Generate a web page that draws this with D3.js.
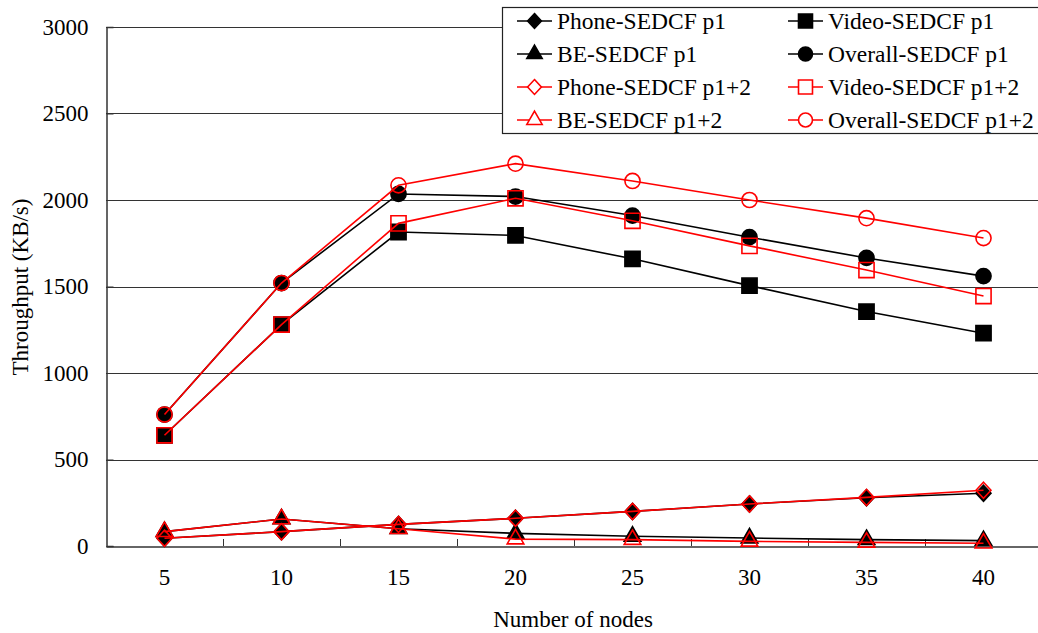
<!DOCTYPE html>
<html>
<head>
<meta charset="utf-8">
<script src="https://cdn.jsdelivr.net/npm/d3@7"></script>
<style>
  body { margin: 0; background: #fff; }
  svg { display: block; font-family: "Liberation Serif", "Times New Roman", serif; }
</style>
</head>
<body>
<svg width="1038" height="633"></svg>
<script>
let nodes = [5, 10, 15, 20, 25, 30, 35, 40];
let yTicks = [0, 500, 1000, 1500, 2000, 2500, 3000];

// values
let phoneP1 = [45, 83, 125, 160, 200, 243, 279, 305];
let videoP1 = [640, 1280, 1815, 1795, 1660, 1505, 1355, 1230];
let beP1 = [83, 156, 100, 73, 56, 46, 37, 31];
let overallP1 = [760, 1520, 2035, 2020, 1910, 1785, 1665, 1560];
let phoneP12 = [45, 83, 125, 160, 200, 243, 281, 322];
let videoP12 = [640, 1280, 1865, 2010, 1880, 1735, 1595, 1445];
let beP12 = [83, 156, 100, 40, 37, 27, 21, 16];
let overallP12 = [760, 1520, 2085, 2210, 2110, 2000, 1895, 1780];

// squat diamond, a bit taller than wide
let diamond = {
    draw: function(ctx, size) {
        let w = Math.sqrt(size) * 0.62, h = w * 1.08;
        ctx.moveTo(0, -h);
        ctx.lineTo(w, 0);
        ctx.lineTo(0, h);
        ctx.lineTo(-w, 0);
        ctx.closePath();
    }
};

let series = [
    {name: 'Phone-SEDCF p1', values: phoneP1, color: 'black', shape: diamond, size: 145, open: false},
    {name: 'Video-SEDCF p1', values: videoP1, color: 'black', shape: d3.symbolSquare, size: 230, open: false},
    {name: 'BE-SEDCF p1', values: beP1, color: 'black', shape: d3.symbolTriangle, size: 120, open: false},
    {name: 'Overall-SEDCF p1', values: overallP1, color: 'black', shape: d3.symbolCircle, size: 180, open: false},
    {name: 'Phone-SEDCF p1+2', values: phoneP12, color: 'red', shape: diamond, size: 145, open: true},
    {name: 'Video-SEDCF p1+2', values: videoP12, color: 'red', shape: d3.symbolSquare, size: 230, open: true},
    {name: 'BE-SEDCF p1+2', values: beP12, color: 'red', shape: d3.symbolTriangle, size: 120, open: true},
    {name: 'Overall-SEDCF p1+2', values: overallP12, color: 'red', shape: d3.symbolCircle, size: 180, open: true},
];

let svg = d3.select('svg');
let plotLeft = 106, plotTop = 27, plotBottom = 546, bandW = 117;

let x = d3.scaleBand().domain(nodes).range([plotLeft, plotLeft + bandW * nodes.length]);
let y = d3.scaleLinear().domain([0, 3000]).range([plotBottom, plotTop]);

// gridlines
svg.append('g').selectAll('line').data(yTicks.slice(1)).enter().append('line')
    .attr('x1', plotLeft).attr('x2', 1038)
    .attr('y1', function(d) {return Math.round(y(d)) + 0.5})
    .attr('y2', function(d) {return Math.round(y(d)) + 0.5})
    .attr('stroke', '#333').attr('stroke-width', 1);

// y axis
let yAxis = svg.append('g').attr('transform', 'translate(' + (plotLeft + 0.5) + ',0)')
    .call(d3.axisLeft(y).tickValues(yTicks).tickFormat(d3.format('d')).tickSize(-7).tickPadding(18));
yAxis.select('.domain').attr('stroke', '#333').attr('stroke-width', 1.5);
yAxis.selectAll('.tick line').attr('stroke', '#333');
yAxis.selectAll('text').attr('font-size', 23).attr('font-family', 'Liberation Serif').attr('fill', '#000');

// x axis: boundary ticks between categories
let xAxis = svg.append('g').attr('transform', 'translate(0,' + (plotBottom + 0.5) + ')')
    .call(d3.axisBottom(x).tickSize(0).tickPadding(22));
xAxis.select('.domain').attr('stroke', '#333').attr('stroke-width', 1.5);
xAxis.selectAll('text').attr('font-size', 23).attr('font-family', 'Liberation Serif').attr('fill', '#000');
svg.append('g').selectAll('line').data(nodes.slice(1)).enter().append('line')
    .attr('x1', function(d) {return Math.round(x(d)) + 0.5})
    .attr('x2', function(d) {return Math.round(x(d)) + 0.5})
    .attr('y1', plotBottom).attr('y2', plotBottom - 7)
    .attr('stroke', '#333');

// axis titles
svg.append('text').attr('x', 573).attr('y', 627).attr('text-anchor', 'middle')
    .attr('font-size', 23).text('Number of nodes');
svg.append('text').attr('transform', 'translate(28,287) rotate(-90)').attr('text-anchor', 'middle')
    .attr('font-size', 23).text('Throughput (KB/s)');

// series
let cx = function(d, i) {return x(nodes[i]) + x.bandwidth() / 2};
let line = d3.line().x(cx).y(function(d) {return y(d)});

for (let s of series) {
    let g = svg.append('g');
    g.append('path').datum(s.values).attr('d', line)
        .attr('fill', 'none').attr('stroke', s.color).attr('stroke-width', 1.6);
    g.selectAll('path.m').data(s.values).enter().append('path').attr('class', 'm')
        .attr('d', d3.symbol().type(s.shape).size(s.size))
        .attr('transform', function(d, i) {return 'translate(' + cx(d, i) + ',' + y(d) + ')'})
        .attr('fill', s.open ? 'none' : s.color)
        .attr('stroke', s.color).attr('stroke-width', 1.6);
}

// legend
let legend = svg.append('g');
legend.append('rect').attr('x', 502.5).attr('y', 7.5).attr('width', 600).attr('height', 126)
    .attr('fill', 'white').attr('stroke', '#222').attr('stroke-width', 1.2);
let rowY = [21, 54, 87, 120];
let colX = [517, 788];
series.forEach(function(s, i) {
    let row = Math.floor(i / 2), col = i % 2;
    let gx = colX[col], gy = rowY[row];
    let item = legend.append('g').attr('transform', 'translate(' + gx + ',' + gy + ')');
    item.append('line').attr('x1', 0).attr('x2', 35).attr('y1', 0).attr('y2', 0)
        .attr('stroke', s.color).attr('stroke-width', 1.6);
    item.append('path').attr('d', d3.symbol().type(s.shape).size(s.size * 0.85))
        .attr('transform', 'translate(17.5,0)')
        .attr('fill', s.open ? 'white' : s.color)
        .attr('stroke', s.color).attr('stroke-width', 1.6);
    item.append('text').attr('x', 40).attr('y', 0).attr('dy', '0.35em')
        .attr('font-size', 23.5).text(s.name);
});
</script>
</body>
</html>
